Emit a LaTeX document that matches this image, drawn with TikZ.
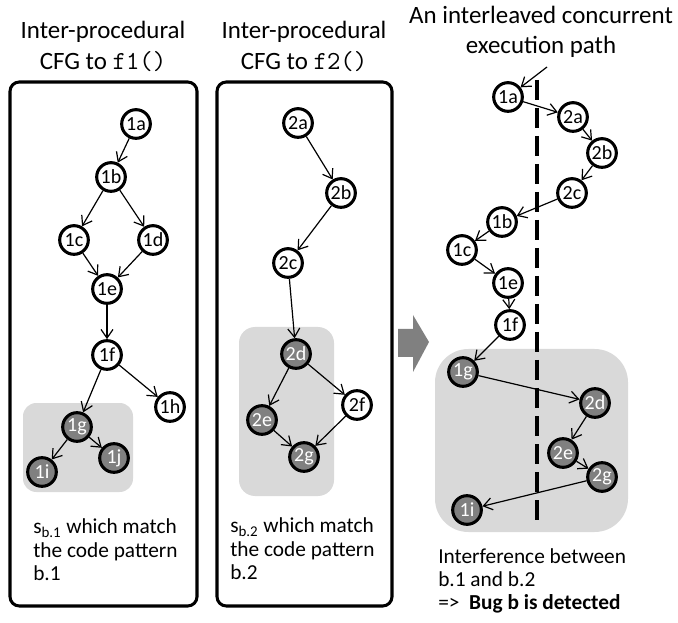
\documentclass[tikz,border=0pt]{standalone}
\usepackage{fontspec}
\setmainfont{Carlito}
\usetikzlibrary{arrows.meta}
\definecolor{dgray}{RGB}{128,128,128}
\definecolor{lgray}{RGB}{217,217,217}
\begin{document}
\begin{tikzpicture}[x=0.75pt,y=-0.75pt,
  cnode/.style={circle,draw,line width=2.3pt,minimum size=21.5pt,inner sep=0pt,fill=white,font=\fontsize{15}{16}\selectfont},
  gnode/.style={cnode,fill=dgray,text=white},
  arr/.style={-{Straight Barb[length=6.5pt,width=9pt]},line width=0.9pt},
  bigbox/.style={draw,line width=2.3pt,rounded corners=7pt},
  title/.style={font=\fontsize{18.7}{22}\selectfont,inner sep=0pt},
  body/.style={font=\fontsize{16}{17.5}\selectfont,inner sep=0pt,align=left,anchor=west}]
\useasboundingbox (0,0) rectangle (678,623);

% titles
\node[title] (t1a) at (103,32) {Inter-procedural};
\node[title] (t1b) at (103,62) {CFG to {\fontsize{19.5}{22}\ttfamily f1()}};
\node[title] (t2a) at (304,32) {Inter-procedural};
\node[title] (t2b) at (304,62) {CFG to {\fontsize{19.5}{22}\ttfamily f2()}};
\node[title] (t3a) at (541,15) {An interleaved concurrent};
\node[title] (t3b) at (541,47) {execution path};

% boxes
\draw[bigbox] (10,82) rectangle (197,606);
\draw[bigbox] (217,82) rectangle (392,606);
\fill[lgray,rounded corners=10pt] (23,403) rectangle (133,492);
\fill[lgray,rounded corners=12pt] (239,327) rectangle (334,496);
\fill[lgray,rounded corners=25pt] (435,349) rectangle (628,532);

% block arrow
\fill[dgray] (398,329) -- (413,329) -- (413,315) -- (429,342) -- (413,372) -- (413,357) -- (398,357) -- cycle;

% left CFG
\node[cnode] (a1a) at (136,124) {1a};
\node[cnode] (a1b) at (111,177) {1b};
\node[cnode] (a1c) at (74,240) {1c};
\node[cnode] (a1d) at (153,240) {1d};
\node[cnode] (a1e) at (107,289) {1e};
\node[cnode] (a1f) at (107,355) {1f};
\node[cnode] (a1h) at (170,407) {1h};
\node[gnode] (a1g) at (77,427) {1g};
\node[gnode] (a1i) at (42,472) {1i};
\node[gnode] (a1j) at (114,458) {1j};
\draw[arr] (a1a) -- (a1b);
\draw[arr] (a1b) -- (a1c);
\draw[arr] (a1b) -- (a1d);
\draw[arr] (a1c) -- (a1e);
\draw[arr] (a1d) -- (a1e);
\draw[arr] (a1e) -- (a1f);
\draw[arr] (a1f) -- (a1g);
\draw[arr] (a1f) -- (a1h);
\draw[arr] (a1g) -- (a1i);
\draw[arr] (a1g) -- (a1j);

% middle CFG
\node[cnode] (b2a) at (298,123) {2a};
\node[cnode] (b2b) at (341,193) {2b};
\node[cnode] (b2c) at (288,263) {2c};
\node[gnode] (b2d) at (296,354) {2d};
\node[gnode] (b2e) at (262,420) {2e};
\node[cnode] (b2f) at (357,405) {2f};
\node[gnode] (b2g) at (304,457) {2g};
\draw[arr] (b2a) -- (b2b);
\draw[arr] (b2b) -- (b2c);
\draw[arr] (b2c) -- (b2d);
\draw[arr] (b2d) -- (b2e);
\draw[arr] (b2d) -- (b2f);
\draw[arr] (b2e) -- (b2g);
\draw[arr] (b2f) -- (b2g);

% right path
\draw[line width=3pt,dash pattern=on 15pt off 6pt] (537,80) -- (537,522);
\coordinate (rin) at (547,67);
\node[cnode] (c1a) at (508,97) {1a};
\node[cnode] (c2a) at (573,117) {2a};
\node[cnode] (c2b) at (602,153) {2b};
\node[cnode] (c2c) at (572,193) {2c};
\node[cnode] (c1b) at (502,222) {1b};
\node[cnode] (c1c) at (462,250) {1c};
\node[cnode] (c1e) at (508,283) {1e};
\node[cnode] (c1f) at (510,325) {1f};
\node[gnode] (c1g) at (463,372) {1g};
\node[gnode] (c2d) at (595,403) {2d};
\node[gnode] (c2e) at (563,453) {2e};
\node[gnode] (c2g) at (602,477) {2g};
\node[gnode] (c1i) at (467,510) {1i};
\draw[arr] (rin) -- (c1a);
\draw[arr] (c1a) -- (c2a);
\draw[arr] (c2a) -- (c2b);
\draw[arr] (c2b) -- (c2c);
\draw[arr] (c2c) -- (c1b);
\draw[arr] (c1b) -- (c1c);
\draw[arr] (c1c) -- (c1e);
\draw[arr] (c1e) -- (c1f);
\draw[arr] (c1f) -- (c1g);
\draw[arr] (c1g) -- (c2d);
\draw[arr] (c2d) -- (c2e);
\draw[arr] (c2e) -- (c2g);
\draw[arr] (c2g) -- (c1i);

% captions
\node[body] (cap1) at (33,550) {s\textsubscript{b.1} which match\\the code pattern\\b.1};
\node[body] (cap2) at (230,549) {s\textsubscript{b.2} which match\\the code pattern\\b.2};
\node[body] (cap3) at (438,581) {Interference between\\b.1 and b.2\\=>\ \ \textbf{Bug b is detected}};
\end{tikzpicture}
\end{document}
